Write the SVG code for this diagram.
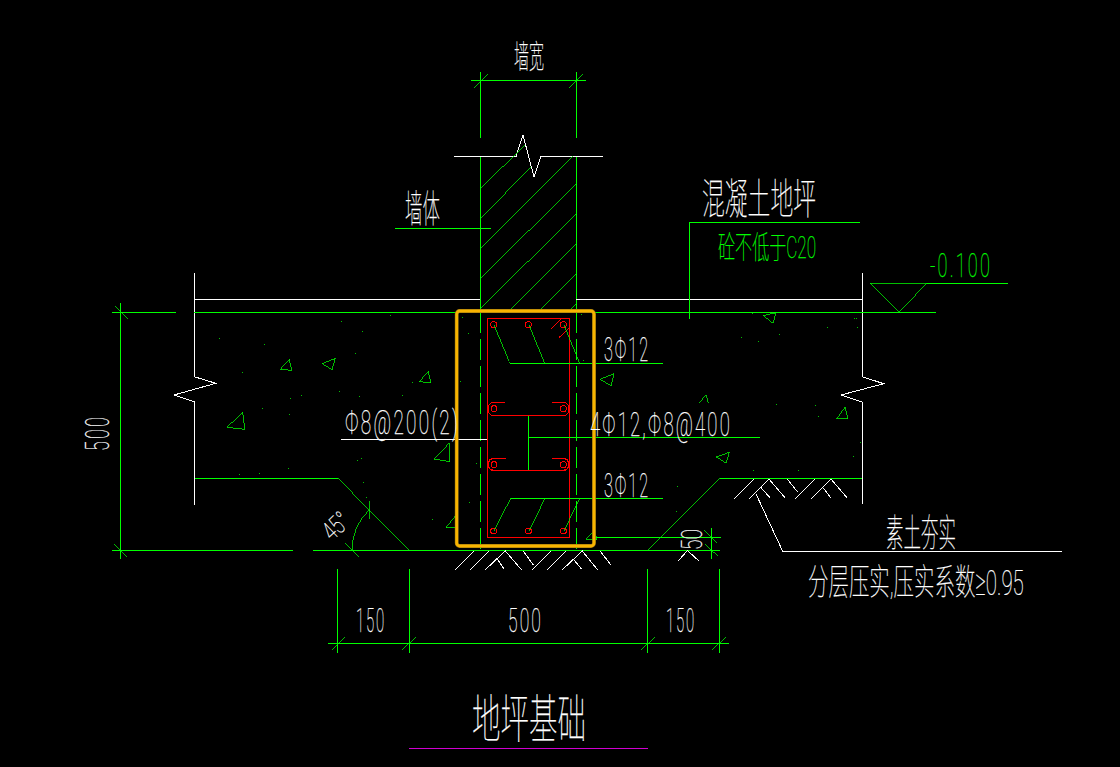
<svg xmlns="http://www.w3.org/2000/svg" width="1120" height="767" viewBox="0 0 1120 767">
<style>
.g{fill:none;stroke:#00ff00;stroke-width:1;shape-rendering:crispEdges}
.gt{fill:none;stroke:#00ff00;stroke-width:0.75;shape-rendering:crispEdges}
.w{fill:none;stroke:#ffffff;stroke-width:1;shape-rendering:crispEdges}
.r{fill:none;stroke:#ff0000;stroke-width:1;shape-rendering:crispEdges}
.t{font-family:Roboto,"Noto Sans CJK SC",sans-serif;font-weight:100;fill:#ffffff;stroke:#ffffff;stroke-width:0.25}
.tg{fill:#00ff00;stroke:#00ff00}
.n{letter-spacing:0.12em}
</style>
<rect id="background" width="1120" height="767" fill="#000000"/>

<g id="wall">
<path class="w" d="M454 156.5H516L523 135L534 177L541 156.5H603"/>
<path class="g" d="M480.300 156.500V312M576.300 156.500V312"/>
<path class="gt" d="M480 189L525 145M480 219L531 167M480 249L573 156.500M480 279L576 184M480 309L576 214M510 310L576 244M540 310L576 274M570 310L576 304"/>
</g>

<g id="slab">
<path class="w" d="M194.300 299.300H480M576 299.300H862.300"/>
<path class="w" d="M194.300 273V376.700L215.700 383.300L174 395L194.300 401.700V505"/>
<path class="w" d="M862.300 273V376.700L883.700 383.700L841 395L862.300 402V504"/>
<path class="g" d="M194 312.300H936"/>
<path class="g" d="M195 478.300H338"/>
<path class="gt" d="M338 478.300L409 550.300"/>
<path class="g" d="M719.500 478.300H862"/>
<path class="gt" d="M719.500 478.300L648 550.300"/>
<path class="g" d="M313 550.300H720"/>
<path class="g" d="M595 537.300H721"/>
</g>

<g id="aggregate">
<path class="gt" d="M280.300 369.300L289.300 359.300L291.700 370.300ZM322.300 363.700L335.300 358.300L332 369.700ZM419.300 381.700L428.300 371.300L430.700 382.700ZM227 427.300L242.700 412.300L244.700 429.300ZM434.300 459L449 443.300L450 461.700ZM446 527.700L455.300 516V527.700ZM600 379.300L614 373.700L611 385.700ZM763.300 315.700L776 312.700L773 323.300ZM836.700 418.700L845 407.300L848 418.700ZM716.300 457L729.300 452.300L726 463ZM585.700 539.300L595 530L596.700 540ZM699.300 402.700L706 395L708.300 402.700"/>
<path class="gt" d="M390 315h1M341 321h1M362 331h1M219 338h1M264 344h1M355 353h1M242 372h1M412 382h1M339 391h1M301 395h1M359 396h1M402 395h1M290 398h1M262 408h1M289 414h1M288 468h1M259 473h1M239 474h1M357 460h1M361 458h1M363 482h1M366 497h1M432 519h1M462 317h1M468 333h1M460 381h1M476 463h1M469 502h1M583 360h1M581 314h1M752 313h1M856 318h1M854 318h1M827 327h1M857 327h1M779 334h1M741 337h1M758 341h1M776 404h1M815 405h1M818 416h1M860 442h1M853 456h1M753 470h1M798 470h1M677 486h1M676 511h1"/>
</g>

<g id="soil">
<path class="w" d="M455 570L474 551M470 570L489 551M485 570L505.300 551L521.700 570M496.700 558.300L504.300 569.300M523.300 551L533.300 565M532 570L551 551M547 570L566 551M562 570L582.300 551L597.700 570M574 560L581.700 569.300M600 551L611 565"/>
<path class="w" d="M734.300 498.700L754 479M749.300 498.700L769 479L785 497.700M760.700 487.300L770 497.700M787.300 479L797.300 491.700M795.300 498.700L815 479M811.300 498.700L831 479L847 497.700M822.700 487.300L830.700 497.700"/>
<path class="w" d="M678.300 561L687.300 550.500L699 561"/>
</g>

<g id="rebar-cage">
<path class="g" stroke-dasharray="21 6" d="M480.300 312V550M576.300 312V550"/>
<rect class="r" x="487.300" y="318.300" width="82" height="219"/>
<path class="r" d="M551 329L560.700 319.300M559 337.700L569 328"/>
<g class="r">
<circle cx="493.700" cy="324.700" r="3"/><circle cx="528.300" cy="324.700" r="3"/><circle cx="563.300" cy="324.700" r="3"/>
<circle cx="494" cy="408.700" r="3"/><circle cx="563.300" cy="408.700" r="3"/>
<circle cx="494" cy="464.700" r="3"/><circle cx="563.300" cy="464.700" r="3"/>
<circle cx="493.700" cy="531" r="3"/><circle cx="528.300" cy="531" r="3"/><circle cx="563.300" cy="531" r="3"/>
</g>
<path class="r" d="M505 402.300H494C490 402.300 488 405.500 488 409C488 412.500 490 415.700 494 415.700H563C567 415.700 569 412.500 569 409C569 405.500 567 402.300 563 402.300H552"/>
<path class="r" style="stroke-width:1.400" d="M505.500 458.300H494C490 458.300 488 461.500 488 464.500C488 467.500 490 470.300 494 470.300H563C567 470.300 569 467.500 569 464.500C569 461.500 567 458.300 563 458.300H552"/>
<path class="g" d="M528.300 416V470M528.300 437.300H760"/>
<path class="w" d="M341 439.300H487"/>
<path class="g" d="M510 363.300H663M510.700 498.300H663"/>
<path class="gt" d="M494 325L510 363.300M529 325L544.700 363.300M564 325L579.700 363.300M510.700 498.300L494 531M545 498.300L529 531M579.700 498.300L564 531"/>
<rect x="456.700" y="311" width="137.300" height="235" rx="3" fill="none" stroke="#8a6a10" stroke-width="3.800"/>
<rect x="456.700" y="311" width="137.300" height="235" rx="3" fill="none" stroke="#f8b400" stroke-width="2.800"/>
</g>

<g id="connectors">
<path class="g" d="M471 80H586M480.300 72V138M576.300 72V138"/>
<path class="gt" d="M474.300 87.700L487.700 74.300M569 87.700L583 74"/>
<path class="g" d="M120.300 303V559M112 312.300H176M112 550.300H293"/>
<path class="gt" d="M115 306L128 319M113.700 544L126.700 556.700"/>
<path class="gt" d="M352 550A57 57 0 0 1 369 510M369.300 501V519.300M345.300 543.300L359 556.700"/>
<path class="g" d="M711.700 528V559"/>
<path class="gt" d="M704 530L717.300 543.300M705.300 544L718.300 556.700"/>
<path class="g" d="M328 643.300H729M337.300 569V653M409.300 569V653M647.300 569V653M719.300 569V653"/>
<path class="gt" d="M332.300 650L345 637.300M402 650L416 637M641 650L655 637M712 650L726 637"/>
<path class="g" d="M395 228.300H491"/>
<path class="g" d="M860 222.300H689.500V318.700"/>
<path class="g" d="M926.700 283.300H1008"/>
<path class="gt" d="M870 283.300H926.700L899 312.300Z"/>
<path class="w" d="M756 494L782.700 551.300H1061.700"/>
<path d="M409 748.300H648" fill="none" stroke="#d000d0" stroke-width="1" shape-rendering="crispEdges"/>
</g>

<g id="labels">
<text class="t" x="514" y="67.500" font-size="32" textLength="30" lengthAdjust="spacingAndGlyphs">墙宽</text>
<text class="t" x="405" y="222" font-size="38" textLength="35" lengthAdjust="spacingAndGlyphs">墙体</text>
<text class="t" x="702" y="214" font-size="42" textLength="114" lengthAdjust="spacingAndGlyphs">混凝土地坪</text>
<text class="t tg" x="718" y="258" font-size="31" textLength="98" lengthAdjust="spacingAndGlyphs">砼不低于C20</text>
<text class="t tg n" x="930" y="276.700" font-size="33" textLength="62" lengthAdjust="spacingAndGlyphs">-0.100</text>
<text class="t n" x="604" y="361" font-size="33" textLength="46" lengthAdjust="spacingAndGlyphs">3Φ12</text>
<text class="t n" x="604" y="496.500" font-size="33" textLength="46" lengthAdjust="spacingAndGlyphs">3Φ12</text>
<text class="t n" x="590" y="436" font-size="33" textLength="142" lengthAdjust="spacingAndGlyphs">4Φ12,Φ8@400</text>
<text class="t n" x="345" y="434" font-size="33" textLength="115" lengthAdjust="spacingAndGlyphs">Φ8@200(2)</text>
<text class="t n" font-size="33" textLength="36" lengthAdjust="spacingAndGlyphs" transform="translate(109 451) rotate(-90)">500</text>
<text class="t" font-size="26" textLength="27" lengthAdjust="spacingAndGlyphs" transform="translate(332 541.700) rotate(-43)">45°</text>
<text class="t" font-size="30" textLength="21" lengthAdjust="spacingAndGlyphs" transform="translate(701.700 550) rotate(-90)">50</text>
<text class="t n" x="356" y="632" font-size="33" textLength="30" lengthAdjust="spacingAndGlyphs">150</text>
<text class="t n" x="508" y="632" font-size="33" textLength="35" lengthAdjust="spacingAndGlyphs">500</text>
<text class="t n" x="666" y="632" font-size="33" textLength="30" lengthAdjust="spacingAndGlyphs">150</text>
<text class="t" x="886" y="546" font-size="38" textLength="70" lengthAdjust="spacingAndGlyphs">素土夯实</text>
<text class="t" font-size="36" transform="translate(808 594.500) scale(0.568 1)">分层压实,压实系数≥0.95</text>
<text class="t" x="472" y="738" font-size="52" textLength="114" lengthAdjust="spacingAndGlyphs">地坪基础</text>
</g>
</svg>
